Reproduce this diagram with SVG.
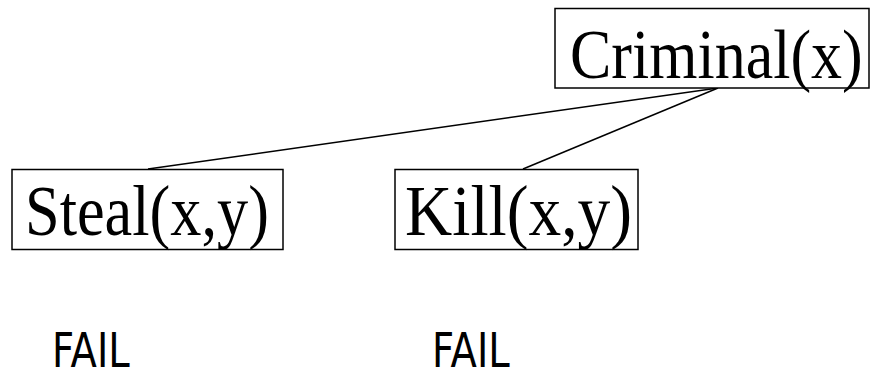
<svg xmlns="http://www.w3.org/2000/svg" width="871" height="379" viewBox="0 0 871 379">
<style>
.box{fill:#fff;stroke:#000;stroke-width:1.5}
.lbl{font-family:"Liberation Serif","Times New Roman",serif;fill:#000}
.fail{font-family:"DejaVu Sans",Verdana,sans-serif;font-size:38.5px;fill:#000}
.edge{stroke:#000;stroke-width:1.5;fill:none}
</style>
<rect width="871" height="379" fill="#fff"/>
<g id="connectors">
<line class="edge" x1="718" y1="88" x2="148" y2="169"/>
<line class="edge" x1="718" y1="88" x2="523" y2="169"/>
</g>
<g id="criminal">
<rect class="box" x="555" y="8.5" width="314" height="79.5"/>
<text class="lbl" font-size="62" transform="translate(570,78) scale(1,1.14)">Criminal(x)</text>
</g>
<g id="steal">
<rect class="box" x="12" y="169.5" width="271" height="80"/>
<text class="lbl" font-size="62.3" transform="translate(25,235) scale(1,1.14)">Steal(x,y)</text>
</g>
<g id="kill">
<rect class="box" x="395" y="169.5" width="243" height="80"/>
<text class="lbl" font-size="65.4" transform="translate(405,235) scale(1,1.086)">Kill(x,y)</text>
</g>
<g id="fail1">
<text class="fail" transform="translate(52,367) scale(1,1.247)">FAIL</text>
</g>
<g id="fail2">
<text class="fail" transform="translate(432,367) scale(1,1.247)">FAIL</text>
</g>
</svg>
